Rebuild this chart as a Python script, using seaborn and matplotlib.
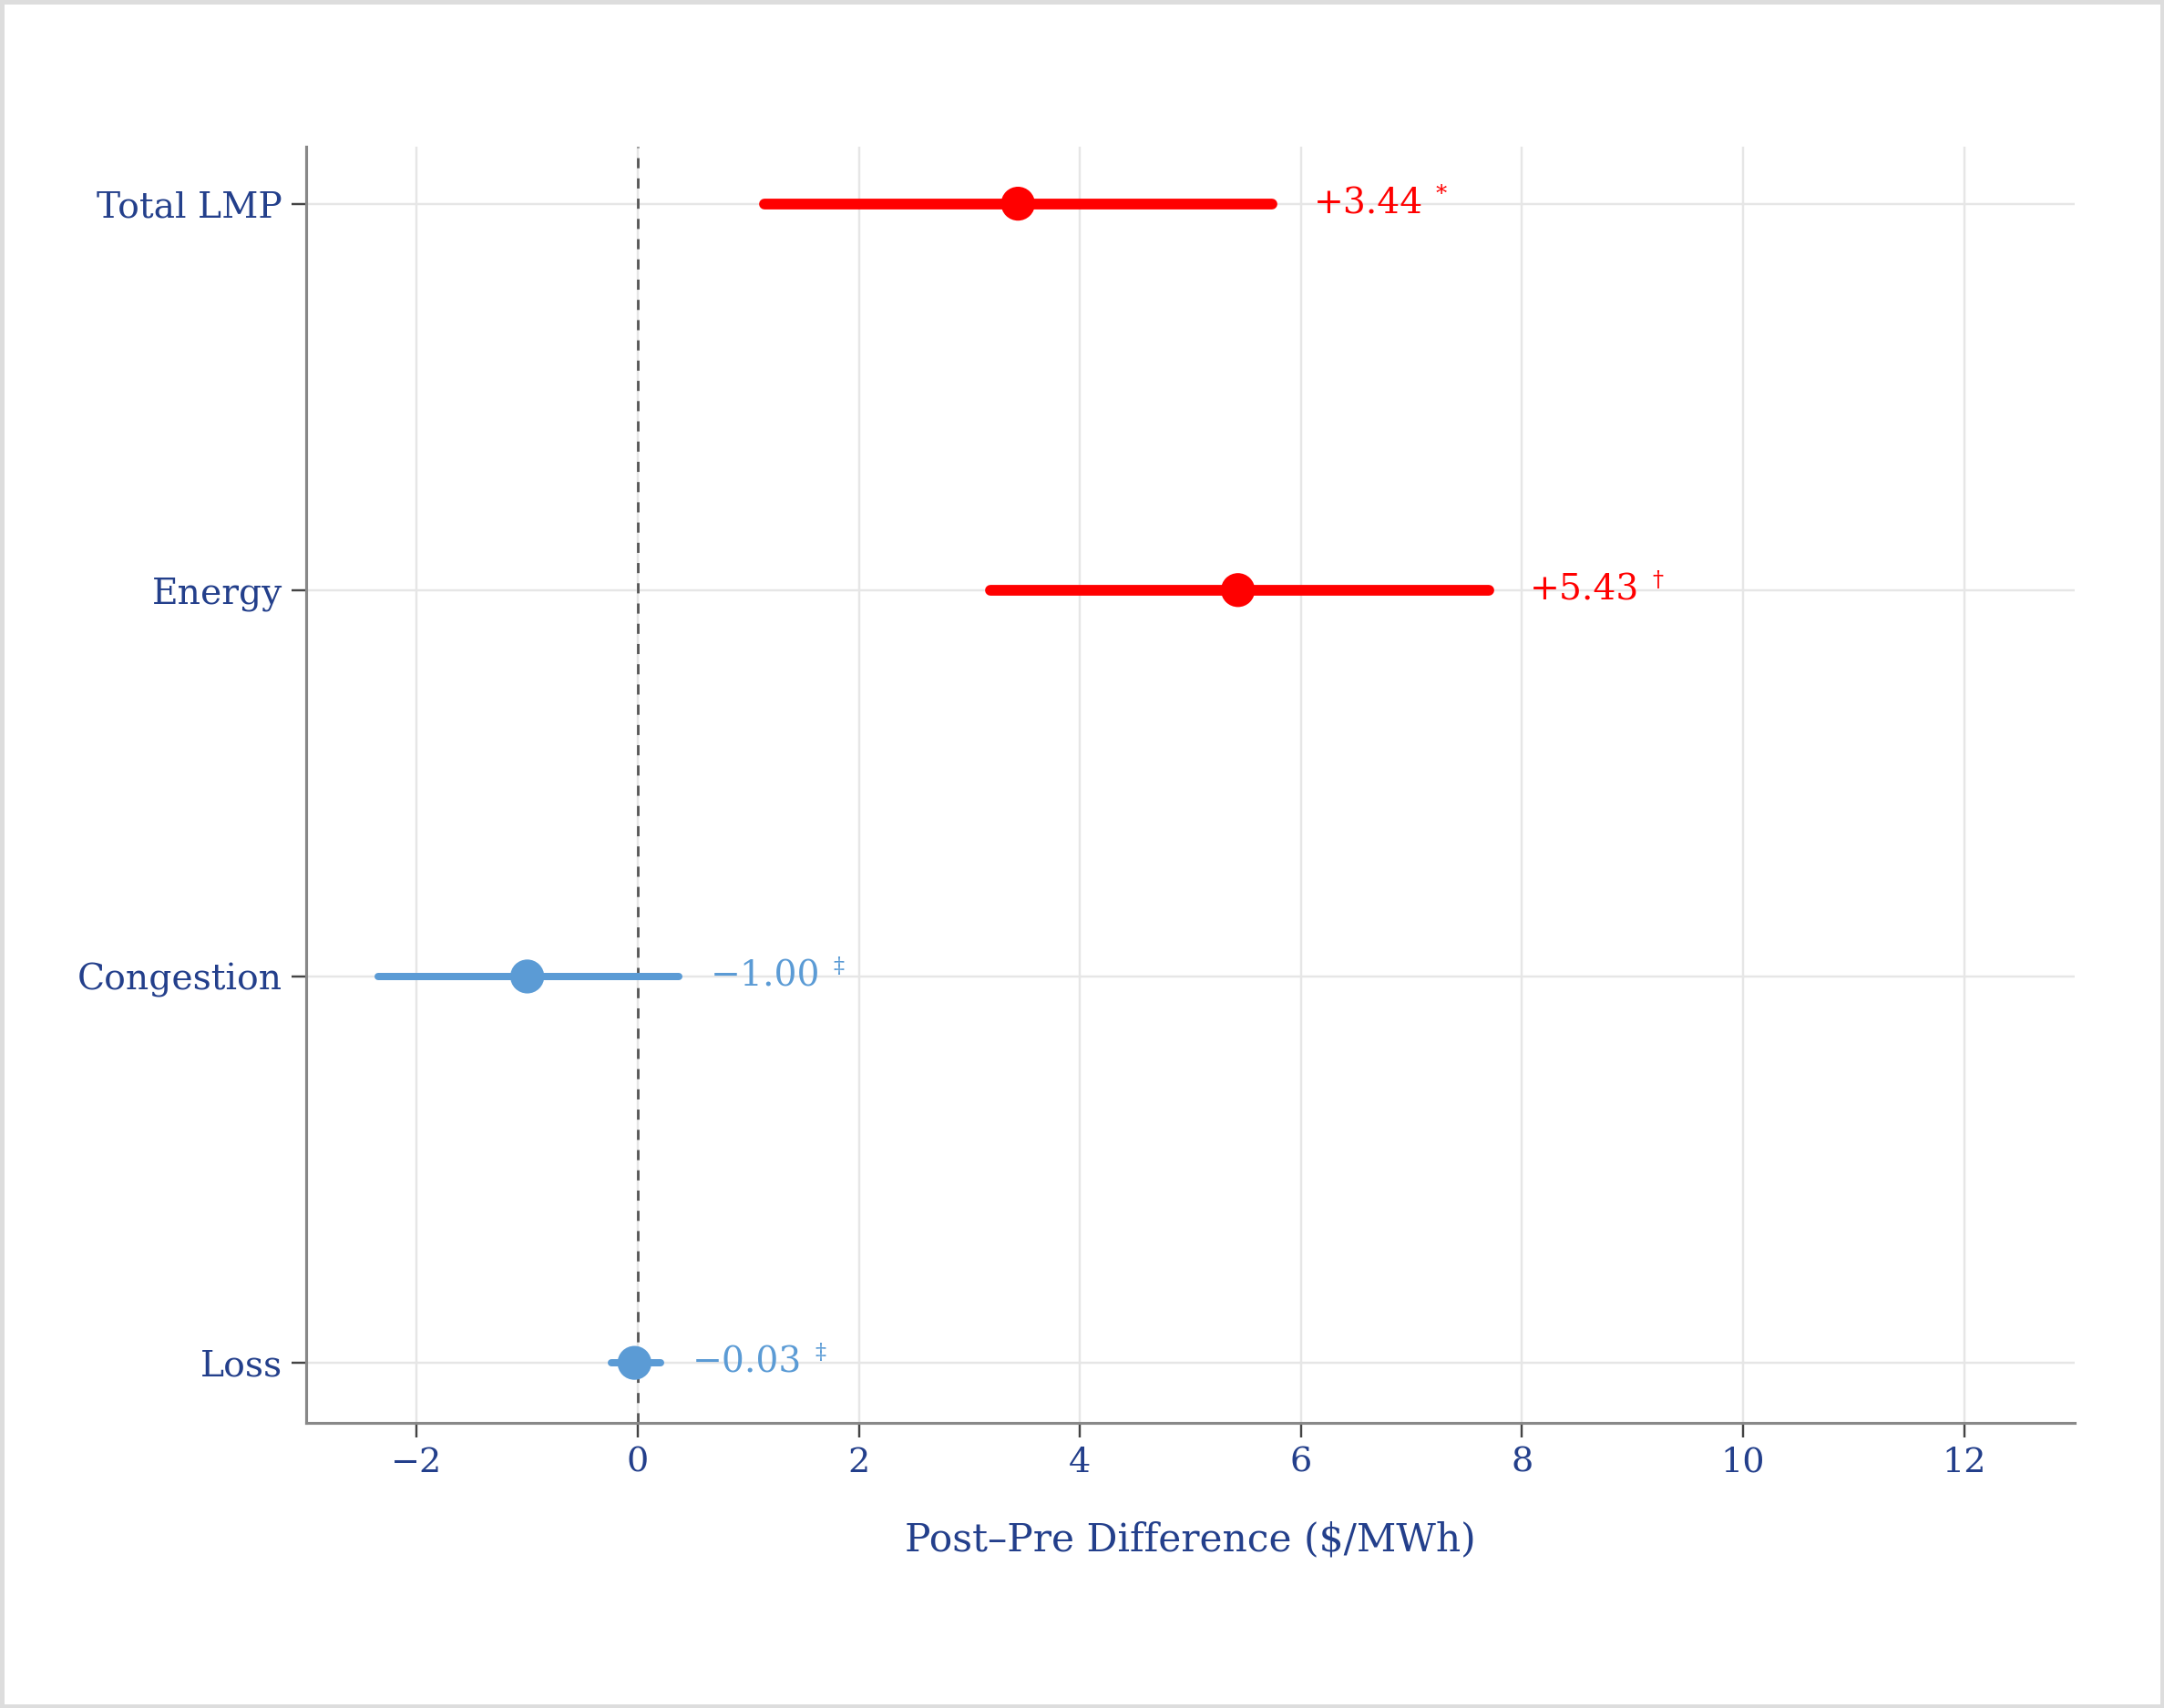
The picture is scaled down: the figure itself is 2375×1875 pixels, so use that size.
import matplotlib
matplotlib.use("Agg")
import matplotlib.pyplot as plt
import seaborn as sns
import pandas as pd
import numpy as np

# values
components = ["Total LMP", "Energy", "Congestion", "Loss"]
estimates = [3.44, 5.43, -1.00, -0.03]
ci_low = [1.15, 3.19, -2.35, -0.24]
ci_high = [5.74, 7.70, 0.37, 0.21]
sig_marks = ["*", "\u2020", "\u2021", "\u2021"]

df = pd.DataFrame({"component": components, "est": estimates,
                   "lo": ci_low, "hi": ci_high, "mark": sig_marks})
df["ypos"] = np.arange(len(df))
df["dir"] = np.where(df["est"] > 0, "up", "down")

RED = "#FF0000"
BLUE = "#5B9BD5"
NAVY = "#233F8B"
palette = {"up": RED, "down": BLUE}

sns.set_theme(style="white")
plt.rcParams["font.family"] = ["DejaVu Serif", "DejaVu Sans"]

fig = plt.figure(figsize=(9.5, 7.5), dpi=250)
fig.patch.set_edgecolor("#DDDDDD")
fig.patch.set_linewidth(2.5)
ax = fig.add_axes([0.1415, 0.167, 0.8172, 0.747])

ax.grid(True, color="#E6E6E6", linewidth=0.7)
ax.set_axisbelow(True)
ax.axvline(0, color="#555555", linewidth=0.8, linestyle=(0, (4, 4)), zorder=1)

for _, r in df.iterrows():
    lw = 3.4 if r["dir"] == "up" else 2.3
    ax.hlines(r["ypos"], r["lo"], r["hi"], color=palette[r["dir"]],
              linewidth=lw, capstyle="round", zorder=2)

sns.scatterplot(data=df, x="est", y="ypos", hue="dir", palette=palette,
                s=115, edgecolor="none", legend=False, zorder=3, ax=ax)

ax.set_xlim(-3, 13)
ax.set_ylim(3.155, -0.147)
ax.set_xticks(np.arange(-2, 13, 2))
ax.set_xticklabels([str(v).replace("-", "\u2212") for v in range(-2, 13, 2)])
ax.set_yticks(df["ypos"])
ax.set_yticklabels(components)
ax.set_xlabel("Post\u2013Pre Difference ($/MWh)", color=NAVY, fontsize=12.2, labelpad=13)
ax.set_ylabel("")

for side in ["top", "right"]:
    ax.spines[side].set_visible(False)
for side in ["left", "bottom"]:
    ax.spines[side].set_color("#888888")
    ax.spines[side].set_linewidth(0.9)

ax.tick_params(axis="both", bottom=True, left=True, colors="#444444",
               length=4.5, width=0.7, labelcolor=NAVY, labelsize=11)
ax.tick_params(axis="x", pad=3)
ax.tick_params(axis="y", pad=3, labelsize=11.3)

fig.canvas.draw()
renderer = fig.canvas.get_renderer()
for _, r in df.iterrows():
    col = palette[r["dir"]]
    off = 13 if r["dir"] == "up" else 10
    txt = f"{r['est']:+.2f}".replace("-", "\u2212")
    t = ax.annotate(txt, xy=(r["hi"], r["ypos"]), xytext=(off, 0),
                    textcoords="offset points", ha="left", va="center",
                    color=col, fontsize=11.3)
    bb = t.get_window_extent(renderer)
    ax.annotate(r["mark"], xy=(bb.x1, (bb.y0 + bb.y1) / 2), xycoords="figure pixels",
                xytext=(4, 3), textcoords="offset points", ha="left", va="center",
                color=col, fontsize=7)

fig.savefig("out.png", dpi=250, facecolor="white", edgecolor=fig.patch.get_edgecolor())
